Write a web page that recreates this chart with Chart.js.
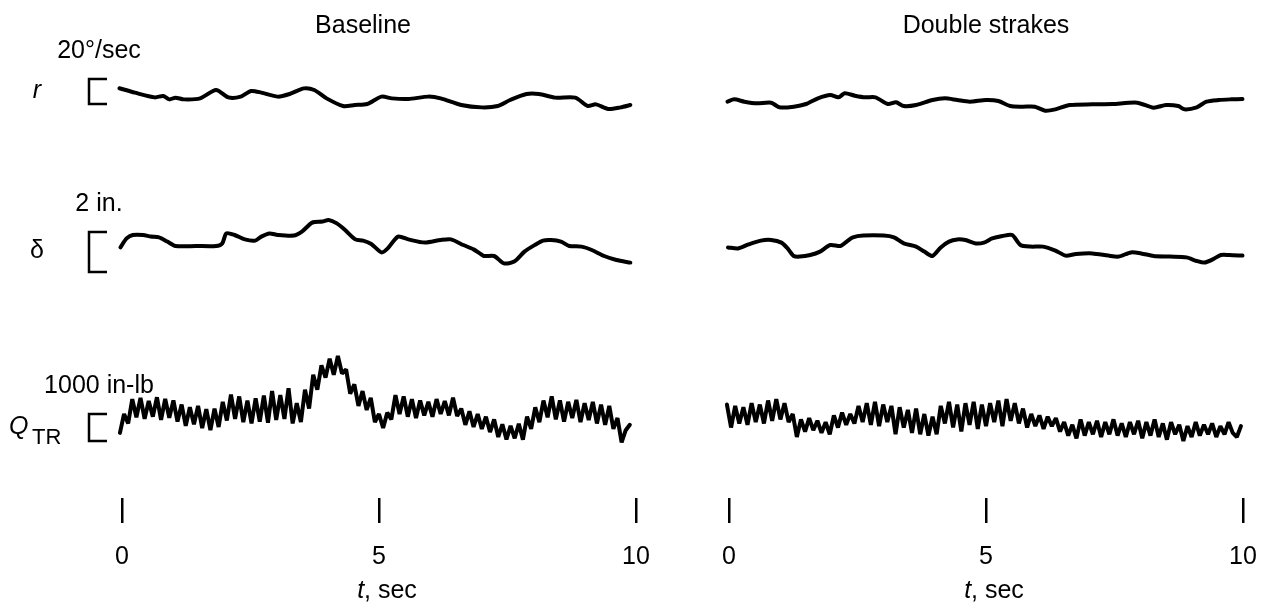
<!doctype html>
<html lang="en">
<head>
<meta charset="utf-8">
<title>Baseline vs double strakes</title>
<style>
  * { margin: 0; padding: 0; }
  body { background: #fff; width: 1271px; height: 609px; overflow: hidden; position: relative; }
  canvas { position: absolute; top: 0; }
  #leftChart { left: 0; }
  #rightChart { left: 660px; }
</style>
</head>
<body>
<canvas id="leftChart" width="660" height="609"></canvas>
<canvas id="rightChart" width="611" height="609"></canvas>

<script src="https://cdn.jsdelivr.net/npm/chart.js"></script>
<script>
// panels and axis
const panelTitles = ['Baseline', 'Double strakes'];
const timeTicks = [0, 5, 10];

// rows: symbol, scale bar size and its label
const rowSymbols = ['r', 'δ', 'Q'];
const rowSubscripts = ['', '', 'TR'];
const barLabels = ['20°/sec', '2 in.', '1000 in-lb'];
const barSizes = [20, 2, 1000];

// axis ranges of each row (units as the scale bars)
const rRange = [-52.8, 35.2];
const dRange = [-1.9, 5.1];
const qRange = [-2111, 4852];

// yaw rate r, deg/sec  (baseline)
const rTimeBase = [-0.05, 0.25, 0.64, 0.80, 0.92, 1.04, 1.20, 1.52, 1.83, 2.07, 2.31, 2.51, 2.71, 3.03, 3.26, 3.54, 3.74, 3.98, 4.30, 4.53,
  4.77, 5.05, 5.25, 5.57, 5.96, 6.20, 6.60, 7.00, 7.31, 7.55, 7.87, 8.11, 8.43, 8.82, 9.06, 9.22, 9.46, 9.70, 9.89];
const rBase = [12.6, 9.1, 5.3, 6.4, 3.7, 5.1, 3.7, 4.5, 11.2, 5.3, 5.9, 10.4, 9.1, 5.9, 8.0, 12.5, 11.2, 4.5, -1.6, -0.8,
  0.0, 5.9, 4.5, 4.0, 5.9, 4.5, -0.8, -2.7, -1.6, 3.2, 8.0, 8.0, 5.1, 5.1, -1.6, -0.3, -4.0, -2.7, -0.8];

// pedal delta, in.  (baseline)
const dTimeBase = [-0.03, 0.09, 0.21, 0.41, 0.56, 0.72, 0.88, 1.04, 1.44, 1.83, 1.95, 2.03, 2.19, 2.39, 2.59, 2.71, 2.87, 3.03, 3.34, 3.50,
  3.70, 3.90, 4.02, 4.18, 4.34, 4.54, 4.69, 4.85, 5.05, 5.17, 5.37, 5.57, 5.89, 6.20, 6.40, 6.64, 6.84, 6.96, 7.04, 7.24,
  7.43, 7.63, 7.83, 8.03, 8.19, 8.35, 8.54, 8.70, 8.94, 9.14, 9.38, 9.62, 9.89];
const dBase = [1.23, 1.68, 1.85, 1.85, 1.77, 1.73, 1.52, 1.30, 1.30, 1.30, 1.43, 1.93, 1.85, 1.63, 1.57, 1.77, 1.93, 1.85, 1.82, 2.02,
  2.47, 2.52, 2.60, 2.43, 2.10, 1.63, 1.57, 1.40, 0.98, 1.18, 1.77, 1.63, 1.47, 1.60, 1.63, 1.35, 1.13, 0.93, 0.80, 0.80,
  0.43, 0.52, 1.02, 1.35, 1.57, 1.60, 1.52, 1.30, 1.27, 1.10, 0.80, 0.60, 0.47];

// tail rotor torque Q_TR, in-lb, sampled every qStep sec from qStart  (baseline)
const qStart = -0.04;
const qStep = 0.08;
const qBase = [300, 1000, 650, 1550, 880, 1600, 820, 1480, 900, 1620, 780, 1560, 860, 1500, 720, 1350, 560, 1250, 620, 1300,
  480, 1180, 400, 1200, 520, 1450, 760, 1720, 820, 1650, 700, 1500, 650, 1580, 720, 1680, 680, 1850, 780, 1700,
  820, 1950, 650, 1400, 700, 1900, 1200, 2450, 1900, 2800, 2350, 3050, 2450, 3150, 2500, 2650, 1750, 2100, 1300, 1850,
  1150, 1600, 700, 1000, 480, 1050, 800, 1700, 1000, 1650, 900, 1550, 850, 1500, 950, 1450, 900, 1550, 1000, 1480,
  950, 1600, 920, 1200, 600, 1100, 520, 1000, 450, 900, 330, 800, 150, 620, 60, 560, 100, 640, 50, 900,
  450, 1250, 700, 1500, 880, 1650, 800, 1500, 720, 1450, 850, 1520, 700, 1400, 780, 1450, 650, 1350, 600, 1300,
  450, 850, -50, 400, 600];

// double strakes
const rTimeStrake = [-0.03, 0.10, 0.30, 0.54, 0.82, 0.98, 1.26, 1.50, 1.73, 1.97, 2.13, 2.25, 2.45, 2.65, 2.85, 3.09, 3.25, 3.40, 3.64, 3.96,
  4.20, 4.44, 4.68, 5.00, 5.24, 5.47, 5.71, 5.95, 6.15, 6.35, 6.63, 7.07, 7.46, 7.94, 8.26, 8.50, 8.74, 8.86, 9.10, 9.29,
  9.53, 9.77, 9.99];
const rStrake = [1.87, 3.73, 1.87, 0.53, 1.07, -2.67, -2.13, 0.0, 4.53, 7.2, 5.33, 8.53, 6.67, 5.33, 5.33, 0.0, 1.33, -1.6, -0.8, 3.2,
  4.53, 3.2, 1.87, 3.2, 2.4, -1.6, -2.13, -2.13, -5.33, -4.27, -0.8, -0.27, 0.0, 1.07, -2.93, -0.8, -1.6, -4.27, -2.67, 1.87,
  3.2, 3.73, 4.0];

const dTimeStrake = [-0.02, 0.18, 0.38, 0.62, 0.82, 1.02, 1.14, 1.26, 1.38, 1.58, 1.77, 1.97, 2.17, 2.29, 2.41, 2.61, 3.01, 3.21, 3.40, 3.64,
  3.80, 3.96, 4.12, 4.28, 4.44, 4.60, 4.80, 4.96, 5.12, 5.32, 5.51, 5.67, 5.87, 6.11, 6.35, 6.55, 6.75, 7.07, 7.38, 7.58,
  7.82, 8.02, 8.26, 8.58, 8.90, 9.10, 9.25, 9.41, 9.57, 9.73, 9.99];
const dStrake = [1.23, 1.18, 1.38, 1.57, 1.60, 1.47, 1.18, 0.80, 0.77, 0.85, 1.02, 1.35, 1.30, 1.52, 1.73, 1.82, 1.82, 1.73, 1.43, 1.27,
  1.02, 0.80, 1.23, 1.52, 1.63, 1.60, 1.43, 1.47, 1.68, 1.80, 1.85, 1.35, 1.27, 1.27, 1.07, 0.82, 0.90, 0.93, 0.82, 0.77,
  0.98, 0.93, 0.80, 0.77, 0.73, 0.55, 0.47, 0.63, 0.85, 0.85, 0.82];

const qStrake = [1350, 500, 1300, 650, 1250, 600, 1400, 700, 1350, 650, 1500, 750, 1550, 800, 1400, 700, 1000, 150, 800, 350,
  850, 400, 750, 300, 700, 250, 950, 500, 1050, 600, 1000, 650, 1300, 700, 1400, 600, 1450, 550, 1350, 700,
  1300, 250, 1250, 500, 1150, 300, 1200, 250, 1000, 200, 900, 250, 1300, 650, 1450, 500, 1350, 350, 1400, 600,
  1450, 450, 1350, 550, 1400, 700, 1500, 550, 1550, 750, 1400, 650, 1200, 500, 1000, 550, 950, 450, 900, 550,
  850, 350, 700, 200, 600, 100, 800, 200, 700, 250, 750, 150, 700, 250, 800, 200, 650, 150, 700, 250,
  750, 100, 700, 200, 800, 150, 650, 50, 700, 250, 600, 0, 550, 150, 700, 200, 600, 250, 650, 150,
  550, 250, 700, 300, 150, 550];

const FONT = '"Liberation Sans", Arial, Helvetica, sans-serif';

function pts(times, values) {
  return values.map((v, i) => ({ x: times[i], y: v }));
}
function qPts(values) {
  return values.map((v, i) => ({ x: qStart + i * qStep, y: v }));
}

// titles, x axis title, scale bars and row symbols
const figureDecor = {
  id: 'figureDecor',
  afterDraw(chart, args, o) {
    const ctx = chart.ctx;
    const area = chart.chartArea;
    ctx.save();
    ctx.fillStyle = '#000';
    ctx.strokeStyle = '#000';
    ctx.textBaseline = 'alphabetic';

    ctx.font = '25px ' + FONT;
    ctx.textAlign = 'center';
    ctx.fillText(o.title, o.titleX, 33);

    // "t, sec"
    const cx = (area.left + area.right) / 2 + 8;
    ctx.textAlign = 'left';
    ctx.font = 'italic 25px ' + FONT;
    const w1 = ctx.measureText('t').width;
    ctx.font = '25px ' + FONT;
    const w2 = ctx.measureText(', sec').width;
    const x0 = cx - (w1 + w2) / 2;
    ctx.font = 'italic 25px ' + FONT;
    ctx.fillText('t', x0, 598);
    ctx.font = '25px ' + FONT;
    ctx.fillText(', sec', x0 + w1, 598);

    if (o.bars) {
      ['yR', 'yD', 'yQ'].forEach((id, i) => {
        const s = chart.scales[id];
        const yTop = s.getPixelForValue(barSizes[i]);
        const yBot = s.getPixelForValue(0);
        const mid = (yTop + yBot) / 2;
        ctx.lineWidth = 2.5;
        ctx.beginPath();
        ctx.moveTo(107, yTop);
        ctx.lineTo(89, yTop);
        ctx.lineTo(89, yBot);
        ctx.lineTo(107, yBot);
        ctx.stroke();

        ctx.font = '25px ' + FONT;
        ctx.textAlign = 'center';
        ctx.fillText(barLabels[i], 99, yTop - 21);

        const italic = rowSymbols[i] !== 'δ';
        ctx.font = (italic ? 'italic ' : '') + '25px ' + FONT;
        if (rowSubscripts[i]) {
          ctx.textAlign = 'left';
          ctx.fillText(rowSymbols[i], 9, mid + 6);
          ctx.font = '22px ' + FONT;
          ctx.fillText(rowSubscripts[i], 32, mid + 16);
        } else {
          ctx.fillText(rowSymbols[i], 37, mid + 6);
        }
      });
    }
    ctx.restore();
  }
};

function rowAxis(range, weight) {
  return {
    type: 'linear', position: 'right', stack: 'rows', stackWeight: weight,
    min: range[0], max: range[1],
    grid: { display: false }, border: { display: false }, ticks: { display: false },
    afterFit: s => { s.width = 0; }
  };
}

function makeChart(id, title, titleX, traces, bars, padLeft, padRight) {
  return new Chart(document.getElementById(id), {
    type: 'line',
    data: {
      datasets: [
        { data: pts(traces.rT, traces.r), yAxisID: 'yR', clip: false },
        { data: pts(traces.dT, traces.d), yAxisID: 'yD', clip: false },
        { data: qPts(traces.q), yAxisID: 'yQ', clip: false, borderWidth: 4, tension: 0, borderJoinStyle: 'bevel' }
      ]
    },
    options: {
      responsive: false,
      animation: false,
      events: [],
      layout: { padding: { left: padLeft, right: padRight, top: 60, bottom: 0 } },
      elements: {
        point: { radius: 0 },
        line: { borderColor: '#000', borderWidth: 4, tension: 0.25, borderJoinStyle: 'round', borderCapStyle: 'round' }
      },
      plugins: {
        legend: { display: false },
        tooltip: { enabled: false },
        figureDecor: { title, titleX, bars }
      },
      scales: {
        x: {
          type: 'linear', position: 'bottom', min: 0, max: 10,
          afterBuildTicks: s => { s.ticks = timeTicks.map(v => ({ value: v })); },
          afterFit: s => { s.height = 111; },
          border: { display: false },
          grid: { drawOnChartArea: false, drawTicks: true, tickLength: 25, lineWidth: 2.5, color: '#000' },
          ticks: { color: '#000', padding: 8, maxRotation: 0, font: { family: FONT, size: 25, lineHeight: 2.12 } }
        },
        yR: rowAxis(rRange, 110),
        yD: rowAxis(dRange, 140),
        yQ: rowAxis(qRange, 188)
      }
    },
    plugins: [figureDecor]
  });
}

makeChart('leftChart', panelTitles[0], 363,
  { rT: rTimeBase, r: rBase, dT: dTimeBase, d: dBase, q: qBase }, true, 122, 24);
makeChart('rightChart', panelTitles[1], 326,
  { rT: rTimeStrake, r: rStrake, dT: dTimeStrake, d: dStrake, q: qStrake }, false, 69, 28);
</script>
</body>
</html>
